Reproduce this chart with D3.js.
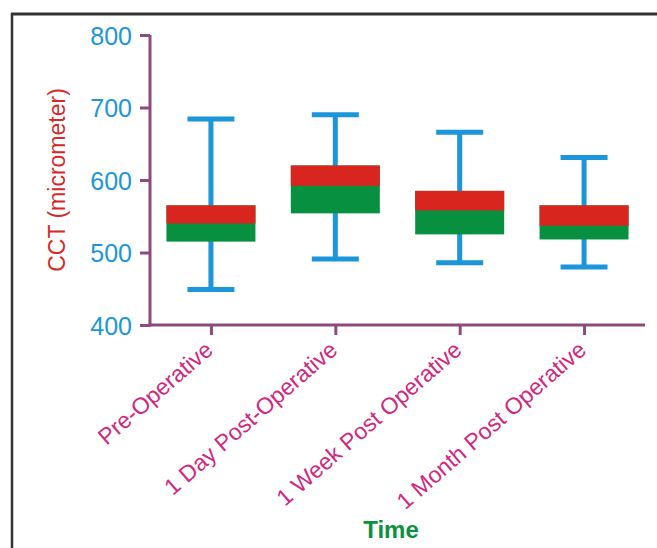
<!DOCTYPE html>
<html>
<head>
<meta charset="utf-8">
<script src="https://cdn.jsdelivr.net/npm/d3@7"></script>
<style>
  body { margin: 0; background: #fff; }
  svg { display: block; font-family: Arial, "Liberation Sans", sans-serif; }
</style>
</head>
<body>
<div id="chart"></div>
<script>
const width = 657;
const height = 548;

// data
const categories = ["Pre-Operative", "1 Day Post-Operative", "1 Week Post Operative", "1 Month Post Operative"];
const minValues = [449, 491, 486, 480];
const q1Values = [515, 554, 525, 518];
const medianValues = [540, 592, 558, 537];
const q3Values = [565, 620, 585, 565];
const maxValues = [684, 690, 666, 631];
const yTicks = [400, 500, 600, 700, 800];

const boxes = categories.map((c, i) => ({
    name: c, min: minValues[i], q1: q1Values[i], median: medianValues[i], q3: q3Values[i], max: maxValues[i]
}));

const axisColor = "#8c4a80";
const blue = "#1b96d9";
const red = "#d8251d";
const green = "#079040";

const svg = d3.select("#chart").append("svg")
    .attr("width", width)
    .attr("height", height);

// frame
svg.append("line").attr("x1", 11).attr("x2", width).attr("y1", 14).attr("y2", 14)
    .attr("stroke", "#333").attr("stroke-width", 3);
svg.append("line").attr("x1", 12).attr("x2", 12).attr("y1", 13).attr("y2", height)
    .attr("stroke", "#333").attr("stroke-width", 2.5);

const x = d3.scalePoint()
    .domain(categories)
    .range([150, 645])
    .padding(0.49);

const y = d3.scaleLinear()
    .domain([400, 800])
    .range([325, 35]);

const boxWidth = 89;
const capWidth = 47;

const g = svg.append("g");

// whiskers
const whiskers = g.selectAll(".whisker").data(boxes).enter().append("g").classed("whisker", true);
whiskers.append("line")
    .attr("x1", d => x(d.name)).attr("x2", d => x(d.name))
    .attr("y1", d => y(d.min)).attr("y2", d => y(d.max))
    .attr("stroke", blue).attr("stroke-width", 5);
whiskers.append("line")
    .attr("x1", d => x(d.name) - capWidth / 2).attr("x2", d => x(d.name) + capWidth / 2)
    .attr("y1", d => y(d.max)).attr("y2", d => y(d.max))
    .attr("stroke", blue).attr("stroke-width", 5);
whiskers.append("line")
    .attr("x1", d => x(d.name) - capWidth / 2).attr("x2", d => x(d.name) + capWidth / 2)
    .attr("y1", d => y(d.min)).attr("y2", d => y(d.min))
    .attr("stroke", blue).attr("stroke-width", 5);

// boxes: whole box green, upper half (median..q3) red on top
g.selectAll(".lower").data(boxes).enter().append("rect")
    .classed("lower", true)
    .attr("x", d => x(d.name) - boxWidth / 2)
    .attr("width", boxWidth)
    .attr("y", d => y(d.q3))
    .attr("height", d => y(d.q1) - y(d.q3))
    .attr("fill", green);
g.selectAll(".upper").data(boxes).enter().append("rect")
    .classed("upper", true)
    .attr("x", d => x(d.name) - boxWidth / 2)
    .attr("width", boxWidth)
    .attr("y", d => y(d.q3))
    .attr("height", d => y(d.median) - y(d.q3))
    .attr("fill", red);

// y axis
const yAxis = svg.append("g")
    .attr("transform", "translate(150,0)")
    .call(d3.axisLeft(y).tickValues(yTicks).tickSize(10).tickSizeOuter(0).tickPadding(8));
yAxis.select(".domain").attr("stroke", axisColor).attr("stroke-width", 3)
    .attr("d", `M0,${y(800)}V${y(400) + 1.5}`);
yAxis.selectAll(".tick line").attr("stroke", axisColor).attr("stroke-width", 3);
yAxis.selectAll(".tick text")
    .attr("fill", blue)
    .style("font-size", "25px")
    .style("font-family", "Arial, 'Liberation Sans', sans-serif")
    .attr("dy", "0.36em");

// x axis
const xAxis = svg.append("g")
    .attr("transform", `translate(0,${y(400)})`)
    .call(d3.axisBottom(x).tickSize(10).tickSizeOuter(0));
xAxis.select(".domain").attr("stroke", axisColor).attr("stroke-width", 3)
    .attr("d", "M148.5,0H645");
xAxis.selectAll(".tick line").attr("stroke", axisColor).attr("stroke-width", 3);
xAxis.selectAll(".tick text")
    .attr("fill", "#d0287e")
    .style("font-size", "23px")
    .style("font-family", "Arial, 'Liberation Sans', sans-serif")
    .attr("text-anchor", "end")
    .attr("dy", null)
    .attr("y", 0)
    .attr("transform", "translate(3,27) rotate(-41)");

// axis titles
svg.append("text")
    .attr("transform", "translate(65,180) rotate(-90)")
    .attr("text-anchor", "middle")
    .attr("fill", "#d42a2a")
    .style("font-size", "23px")
    .text("CCT (micrometer)");

svg.append("text")
    .attr("x", 391)
    .attr("y", 538)
    .attr("text-anchor", "middle")
    .attr("fill", "#0b9040")
    .style("font-size", "24px")
    .style("font-weight", "bold")
    .text("Time");
</script>
</body>
</html>
